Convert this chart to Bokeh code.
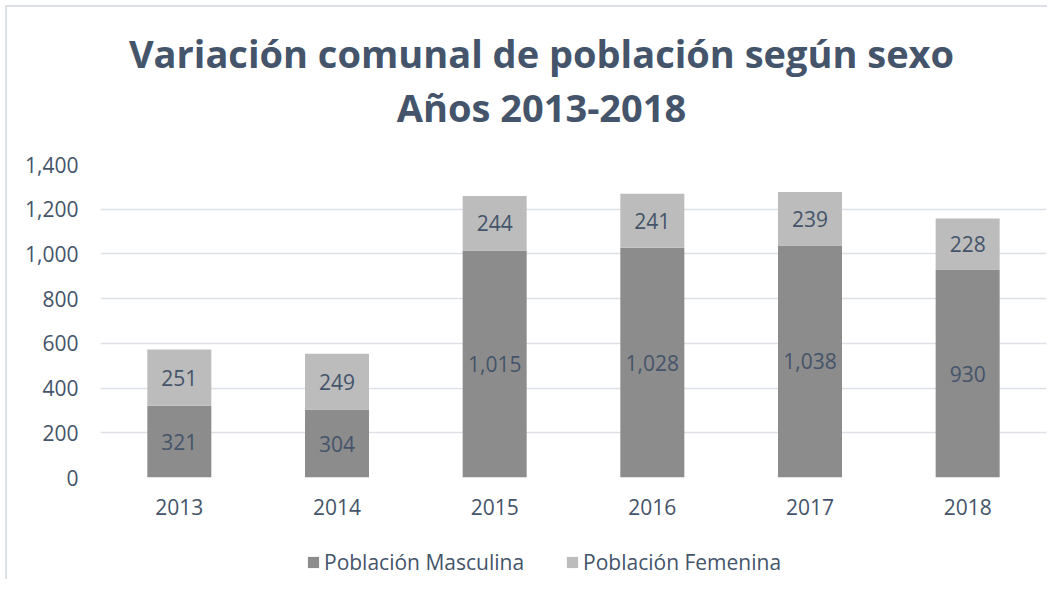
from bokeh.plotting import figure
from bokeh.layouts import column
from bokeh.models import (ColumnDataSource, Legend, LegendItem, FixedTicker,
                          NumeralTickFormatter, Range1d)
from bokeh.core.properties import value
from bokeh.embed import file_html
from bokeh.resources import INLINE

years = ["2013", "2014", "2015", "2016", "2017", "2018"]
masculina = [321, 304, 1015, 1028, 1038, 930]
femenina = [251, 249, 244, 241, 239, 228]
series = ["Población Masculina", "Población Femenina"]
y_ticks = [0, 200, 400, 600, 800, 1000, 1200, 1400]
title_lines = ["Variación comunal de población según sexo", "Años 2013-2018"]

FONT = "Open Sans"
TXT = "#44546a"
colors = ["#8c8c8c", "#bcbcbc"]
W = 1047

src = ColumnDataSource(dict(
    years=years,
    masculina=masculina,
    femenina=femenina,
    m_mid=[m / 2 for m in masculina],
    f_mid=[m + f / 2 for m, f in zip(masculina, femenina)],
    m_lab=[f"{m:,}" for m in masculina],
    f_lab=[f"{f:,}" for f in femenina],
))


def transparent(fig):
    fig.border_fill_alpha = 0
    fig.background_fill_alpha = 0
    fig.outline_line_color = None


# ---- title strip (frame aligned with main chart: 100..1046 px) ----
pt = figure(width=W, height=140, x_range=Range1d(100, 1046), y_range=Range1d(0, 140),
            output_backend="svg", toolbar_location=None, x_axis_type=None, y_axis_type=None,
            min_border=0)
pt.grid.visible = False
transparent(pt)
tsrc = ColumnDataSource(dict(x=[541, 541], y=[88, 34], t=title_lines))
pt.text(x="x", y="y", text="t", source=tsrc, text_align="center", text_baseline="middle",
        text_font=value(FONT), text_font_size="38px", text_font_style="bold", text_color=TXT)

# ---- main chart ----
p = figure(x_range=years, y_range=Range1d(0, 1400), width=W, height=390,
           output_backend="svg", toolbar_location=None,
           min_border_left=100, min_border_right=1, min_border_top=24, min_border_bottom=53)
transparent(p)

rs = p.vbar_stack(["masculina", "femenina"], x="years", width=0.406, source=src,
                  color=colors, line_color=None)

p.text(x="years", y="m_mid", text="m_lab", source=src, text_align="center",
       text_baseline="middle", text_font=value(FONT), text_font_size="21px", text_color=TXT)
p.text(x="years", y="f_mid", text="f_lab", source=src, text_align="center",
       text_baseline="middle", text_font=value(FONT), text_font_size="21px", text_color=TXT)

p.xgrid.grid_line_color = None
p.ygrid.grid_line_color = "#dde1e6"
p.ygrid.grid_line_width = 1.5
p.yaxis.ticker = FixedTicker(ticks=y_ticks)
p.yaxis.formatter = NumeralTickFormatter(format="0,0")
for ax in (p.xaxis[0], p.yaxis[0]):
    ax.axis_line_color = None
    ax.major_tick_line_color = None
    ax.minor_tick_line_color = None
    ax.major_label_text_font = FONT
    ax.major_label_text_font_size = "21px"
    ax.major_label_text_color = TXT
p.yaxis.major_label_standoff = 16
p.xaxis.major_label_standoff = 15

# ---- legend strip (hidden renderers of the same series; only the legend shows) ----
pl = figure(width=W, height=49, x_range=p.x_range, y_range=Range1d(0, 1400),
            output_backend="svg", toolbar_location=None, x_axis_type=None, y_axis_type=None,
            min_border=0)
pl.grid.visible = False
transparent(pl)
lr = pl.vbar_stack(["masculina", "femenina"], x="years", width=0.406, source=src,
                   color=colors, line_color=None)
for r in lr:
    r.visible = False
legend = Legend(items=[LegendItem(label=series[i], renderers=[lr[i]]) for i in range(2)],
                orientation="horizontal", location=(206, 3),
                label_text_font=FONT, label_text_font_size="21px", label_text_color=TXT,
                glyph_width=14, glyph_height=14, label_standoff=4, spacing=41,
                border_line_color=None, background_fill_alpha=0, margin=0, padding=0,
                inactive_fill_alpha=0, click_policy="none")
pl.add_layout(legend, "center")

layout = column(pt, p, pl, spacing=0)
layout.styles = {
    "background": ("linear-gradient(#dde1e6, #dde1e6) 5px 5px / 2px 100% no-repeat, "
                   "linear-gradient(#dde1e6, #dde1e6) 5px 5px / 100% 2px no-repeat, #ffffff"),
}
open("out.html", "w").write(file_html(layout, INLINE))
